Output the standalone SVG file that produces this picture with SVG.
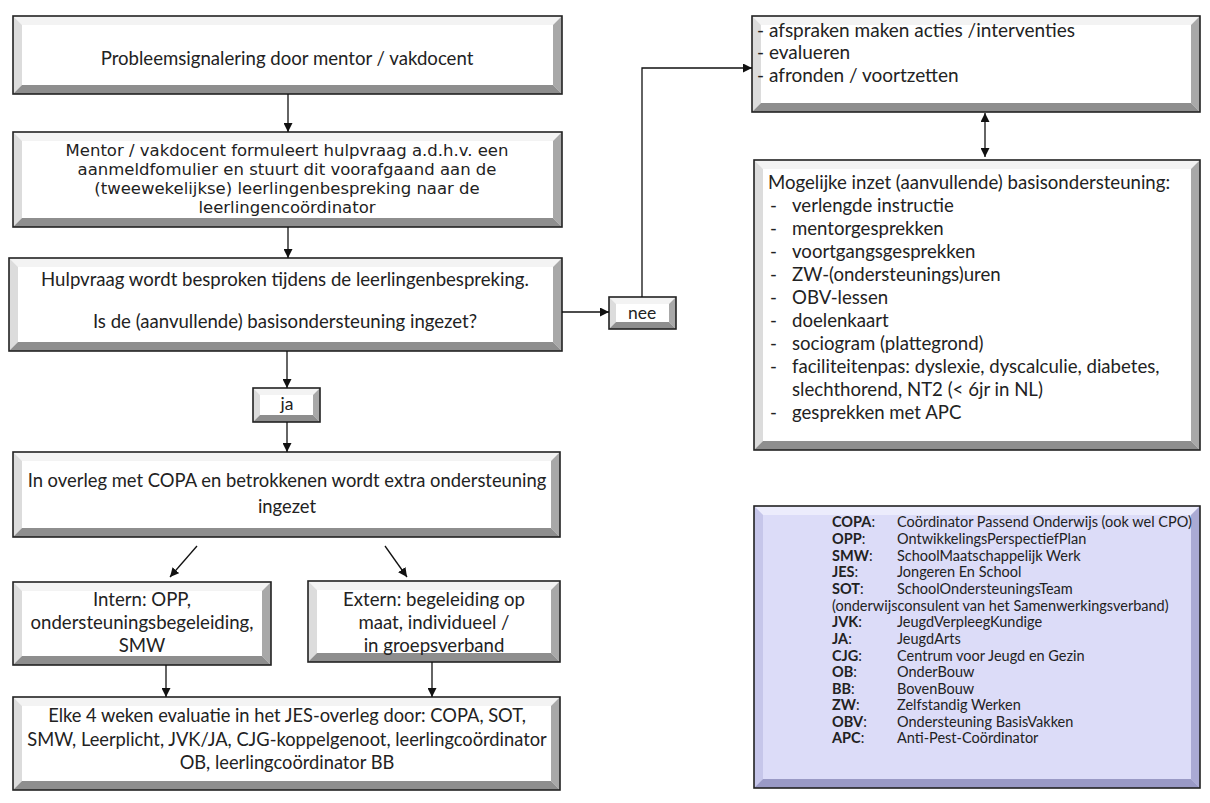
<svg xmlns="http://www.w3.org/2000/svg" width="1210" height="803" viewBox="0 0 1210 803">
<defs>
<style>
.fr{fill:none;stroke:#222;stroke-width:1.6}
.in{fill:#fff}
.bt{fill:#f3f3f3}
.bl{fill:#dcdcdc}
.br{fill:#a8a8a8}
.bb{fill:#8e8e8e}
.lin{fill:#dcdcf8}
.lbt{fill:#ececfc}
.lbl{fill:#c6c6ea}
.lbr{fill:#aaaad4}
.lbb{fill:#9a9ac6}
.c{font-family:Lato,"Liberation Sans",sans-serif;fill:#222}
.v{font-family:"DejaVu Sans",Verdana,sans-serif;fill:#222}
.m{text-anchor:middle}
.cn{fill:none;stroke:#111;stroke-width:1.3}
</style>
<marker id="ah" viewBox="0 0 10 10" refX="10" refY="5" markerWidth="9" markerHeight="9" markerUnits="userSpaceOnUse" orient="auto-start-reverse">
<path d="M0,0 L10,5 L0,10 z" fill="#111"/>
</marker>
</defs>
<rect width="1210" height="803" fill="#fff"/>

<g id="b1">
<rect x="13" y="16" width="549" height="78" class="in"/>
<polygon class="bt" points="13,16 562,16 553,25 22,25"/>
<polygon class="bl" points="13,16 22,25 22,85 13,94"/>
<polygon class="br" points="562,16 562,94 553,85 553,25"/>
<polygon class="bb" points="13,94 22,85 553,85 562,94"/>
<rect x="13" y="16" width="549" height="78" class="fr"/>
<text class="c m" x="287" y="65" font-size="18.6">Probleemsignalering door mentor / vakdocent</text>
</g>

<g id="b2">
<rect x="13" y="132" width="549" height="95" class="in"/>
<polygon class="bt" points="13,132 562,132 553,141 22,141"/>
<polygon class="bl" points="13,132 22,141 22,218 13,227"/>
<polygon class="br" points="562,132 562,227 553,218 553,141"/>
<polygon class="bb" points="13,227 22,218 553,218 562,227"/>
<rect x="13" y="132" width="549" height="95" class="fr"/>
<text class="v m" x="287" font-size="16.5"><tspan x="287" y="156">Mentor / vakdocent formuleert hulpvraag a.d.h.v. een</tspan><tspan x="287" y="175">aanmeldfomulier en stuurt dit voorafgaand aan de</tspan><tspan x="287" y="194">(tweewekelijkse) leerlingenbespreking naar de</tspan><tspan x="287" y="213">leerlingencoördinator</tspan></text>
</g>

<g id="b3">
<rect x="9" y="258" width="553" height="93" class="in"/>
<polygon class="bt" points="9,258 562,258 553,267 18,267"/>
<polygon class="bl" points="9,258 18,267 18,342 9,351"/>
<polygon class="br" points="562,258 562,351 553,342 553,267"/>
<polygon class="bb" points="9,351 18,342 553,342 562,351"/>
<rect x="9" y="258" width="553" height="93" class="fr"/>
<text class="c m" x="285" y="286" font-size="18.6">Hulpvraag wordt besproken tijdens de leerlingenbespreking.</text>
<text class="c m" x="285" y="328" font-size="18.6">Is de (aanvullende) basisondersteuning ingezet?</text>
</g>

<g id="nee">
<rect x="609" y="297" width="67" height="32" class="in"/>
<polygon class="bt" points="609,297 676,297 669,304 616,304"/>
<polygon class="bl" points="609,297 616,304 616,322 609,329"/>
<polygon class="br" points="676,297 676,329 669,322 669,304"/>
<polygon class="bb" points="609,329 616,322 669,322 676,329"/>
<rect x="609" y="297" width="67" height="32" class="fr"/>
<text class="c m" x="642" y="319" font-size="17.5">nee</text>
</g>

<g id="ja">
<rect x="253" y="388" width="67" height="34" class="in"/>
<polygon class="bt" points="253,388 320,388 313,395 260,395"/>
<polygon class="bl" points="253,388 260,395 260,415 253,422"/>
<polygon class="br" points="320,388 320,422 313,415 313,395"/>
<polygon class="bb" points="253,422 260,415 313,415 320,422"/>
<rect x="253" y="388" width="67" height="34" class="fr"/>
<text class="c m" x="287" y="410" font-size="17.5">ja</text>
</g>

<g id="b4">
<rect x="13" y="452" width="547" height="85" class="in"/>
<polygon class="bt" points="13,452 560,452 551,461 22,461"/>
<polygon class="bl" points="13,452 22,461 22,528 13,537"/>
<polygon class="br" points="560,452 560,537 551,528 551,461"/>
<polygon class="bb" points="13,537 22,528 551,528 560,537"/>
<rect x="13" y="452" width="547" height="85" class="fr"/>
<text class="c m" x="287" y="487" font-size="18.4">In overleg met COPA en betrokkenen wordt extra ondersteuning</text>
<text class="c m" x="287" y="513" font-size="18.4">ingezet</text>
</g>

<g id="intern">
<rect x="13" y="582" width="258" height="83" class="in"/>
<polygon class="bt" points="13,582 271,582 262,591 22,591"/>
<polygon class="bl" points="13,582 22,591 22,656 13,665"/>
<polygon class="br" points="271,582 271,665 262,656 262,591"/>
<polygon class="bb" points="13,665 22,656 262,656 271,665"/>
<rect x="13" y="582" width="258" height="83" class="fr"/>
<text class="c m" font-size="18.6"><tspan x="142" y="606">Intern: OPP,</tspan><tspan x="142" y="629">ondersteuningsbegeleiding,</tspan><tspan x="142" y="652">SMW</tspan></text>
</g>

<g id="extern">
<rect x="308" y="581" width="252" height="81" class="in"/>
<polygon class="bt" points="308,581 560,581 551,590 317,590"/>
<polygon class="bl" points="308,581 317,590 317,653 308,662"/>
<polygon class="br" points="560,581 560,662 551,653 551,590"/>
<polygon class="bb" points="308,662 317,653 551,653 560,662"/>
<rect x="308" y="581" width="252" height="81" class="fr"/>
<text class="c m" font-size="18.6"><tspan x="434" y="606">Extern: begeleiding op</tspan><tspan x="434" y="629">maat, individueel /</tspan><tspan x="434" y="652">in groepsverband</tspan></text>
</g>

<g id="b5">
<rect x="13" y="697" width="547" height="93" class="in"/>
<polygon class="bt" points="13,697 560,697 551,706 22,706"/>
<polygon class="bl" points="13,697 22,706 22,781 13,790"/>
<polygon class="br" points="560,697 560,790 551,781 551,706"/>
<polygon class="bb" points="13,790 22,781 551,781 560,790"/>
<rect x="13" y="697" width="547" height="93" class="fr"/>
<text class="c m" font-size="18.3"><tspan x="287" y="722">Elke 4 weken evaluatie in het JES-overleg door: COPA, SOT,</tspan><tspan x="287" y="746">SMW, Leerplicht, JVK/JA, CJG-koppelgenoot, leerlingcoördinator</tspan><tspan x="287" y="769">OB, leerlingcoördinator BB</tspan></text>
</g>

<g id="tr">
<rect x="752" y="16" width="448" height="96" class="in"/>
<polygon class="bt" points="752,16 1200,16 1191,25 761,25"/>
<polygon class="bl" points="752,16 761,25 761,103 752,112"/>
<polygon class="br" points="1200,16 1200,112 1191,103 1191,25"/>
<polygon class="bb" points="752,112 761,103 1191,103 1200,112"/>
<rect x="752" y="16" width="448" height="96" class="fr"/>
<text class="c" font-size="19"><tspan x="757" y="37">- afspraken maken acties /interventies</tspan><tspan x="757" y="59">- evalueren</tspan><tspan x="757" y="82">- afronden / voortzetten</tspan></text>
</g>

<g id="mog">
<rect x="754" y="160" width="446" height="290" class="in"/>
<polygon class="bt" points="754,160 1200,160 1191,169 763,169"/>
<polygon class="bl" points="754,160 763,169 763,441 754,450"/>
<polygon class="br" points="1200,160 1200,450 1191,441 1191,169"/>
<polygon class="bb" points="754,450 763,441 1191,441 1200,450"/>
<rect x="754" y="160" width="446" height="290" class="fr"/>
<text class="c" font-size="18.6">
<tspan x="768" y="189">Mogelijke inzet (aanvullende) basisondersteuning:</tspan>
<tspan x="770" y="212">-</tspan><tspan x="792" y="212">verlengde instructie</tspan>
<tspan x="770" y="235">-</tspan><tspan x="792" y="235">mentorgesprekken</tspan>
<tspan x="770" y="258">-</tspan><tspan x="792" y="258">voortgangsgesprekken</tspan>
<tspan x="770" y="281">-</tspan><tspan x="792" y="281">ZW-(ondersteunings)uren</tspan>
<tspan x="770" y="304">-</tspan><tspan x="792" y="304">OBV-lessen</tspan>
<tspan x="770" y="327">-</tspan><tspan x="792" y="327">doelenkaart</tspan>
<tspan x="770" y="350">-</tspan><tspan x="792" y="350">sociogram (plattegrond)</tspan>
<tspan x="770" y="373">-</tspan><tspan x="792" y="373">faciliteitenpas: dyslexie, dyscalculie, diabetes,</tspan>
<tspan x="792" y="396">slechthorend, NT2 (&lt; 6jr in NL)</tspan>
<tspan x="770" y="419">-</tspan><tspan x="792" y="419">gesprekken met APC</tspan>
</text>
</g>

<g id="legend">
<rect x="754" y="506" width="446" height="282" class="lin"/>
<polygon class="lbt" points="754,506 1200,506 1191,515 763,515"/>
<polygon class="lbl" points="754,506 763,515 763,779 754,788"/>
<polygon class="lbr" points="1200,506 1200,788 1191,779 1191,515"/>
<polygon class="lbb" points="754,788 763,779 1191,779 1200,788"/>
<rect x="754" y="506" width="446" height="282" class="fr"/>
<g class="c" font-size="14.5">
<text x="832" y="527" font-weight="bold">COPA<tspan font-weight="normal">:</tspan></text><text x="897" y="527">Coördinator Passend Onderwijs (ook wel CPO)</text>
<text x="832" y="544" font-weight="bold">OPP<tspan font-weight="normal">:</tspan></text><text x="897" y="544">OntwikkelingsPerspectiefPlan</text>
<text x="832" y="561" font-weight="bold">SMW<tspan font-weight="normal">:</tspan></text><text x="897" y="561">SchoolMaatschappelijk Werk</text>
<text x="832" y="577" font-weight="bold">JES<tspan font-weight="normal">:</tspan></text><text x="897" y="577">Jongeren En School</text>
<text x="832" y="594" font-weight="bold">SOT<tspan font-weight="normal">:</tspan></text><text x="897" y="594">SchoolOndersteuningsTeam</text>
<text x="832" y="611">(onderwijsconsulent van het Samenwerkingsverband)</text>
<text x="832" y="627" font-weight="bold">JVK<tspan font-weight="normal">:</tspan></text><text x="897" y="627">JeugdVerpleegKundige</text>
<text x="832" y="644" font-weight="bold">JA<tspan font-weight="normal">:</tspan></text><text x="897" y="644">JeugdArts</text>
<text x="832" y="661" font-weight="bold">CJG<tspan font-weight="normal">:</tspan></text><text x="897" y="661">Centrum voor Jeugd en Gezin</text>
<text x="832" y="677" font-weight="bold">OB<tspan font-weight="normal">:</tspan></text><text x="897" y="677">OnderBouw</text>
<text x="832" y="694" font-weight="bold">BB<tspan font-weight="normal">:</tspan></text><text x="897" y="694">BovenBouw</text>
<text x="832" y="710" font-weight="bold">ZW<tspan font-weight="normal">:</tspan></text><text x="897" y="710">Zelfstandig Werken</text>
<text x="832" y="727" font-weight="bold">OBV<tspan font-weight="normal">:</tspan></text><text x="897" y="727">Ondersteuning BasisVakken</text>
<text x="832" y="743" font-weight="bold">APC<tspan font-weight="normal">:</tspan></text><text x="897" y="743">Anti-Pest-Coördinator</text>
</g>
</g>

<g id="connectors">
<line class="cn" x1="288" y1="94" x2="288" y2="132" marker-end="url(#ah)"/>
<line class="cn" x1="288" y1="227" x2="288" y2="258" marker-end="url(#ah)"/>
<line class="cn" x1="562" y1="312" x2="609" y2="312" marker-end="url(#ah)"/>
<polyline class="cn" points="642,297 642,68 752,68" marker-end="url(#ah)"/>
<line class="cn" x1="287" y1="351" x2="287" y2="388" marker-end="url(#ah)"/>
<line class="cn" x1="287" y1="422" x2="287" y2="452" marker-end="url(#ah)"/>
<line class="cn" x1="197" y1="546" x2="170" y2="577" marker-end="url(#ah)"/>
<line class="cn" x1="385" y1="546" x2="407" y2="577" marker-end="url(#ah)"/>
<line class="cn" x1="166" y1="665" x2="166" y2="697" marker-end="url(#ah)"/>
<line class="cn" x1="432" y1="662" x2="432" y2="697" marker-end="url(#ah)"/>
<line class="cn" x1="985" y1="113" x2="985" y2="157" marker-start="url(#ah)" marker-end="url(#ah)"/>
</g>
</svg>
